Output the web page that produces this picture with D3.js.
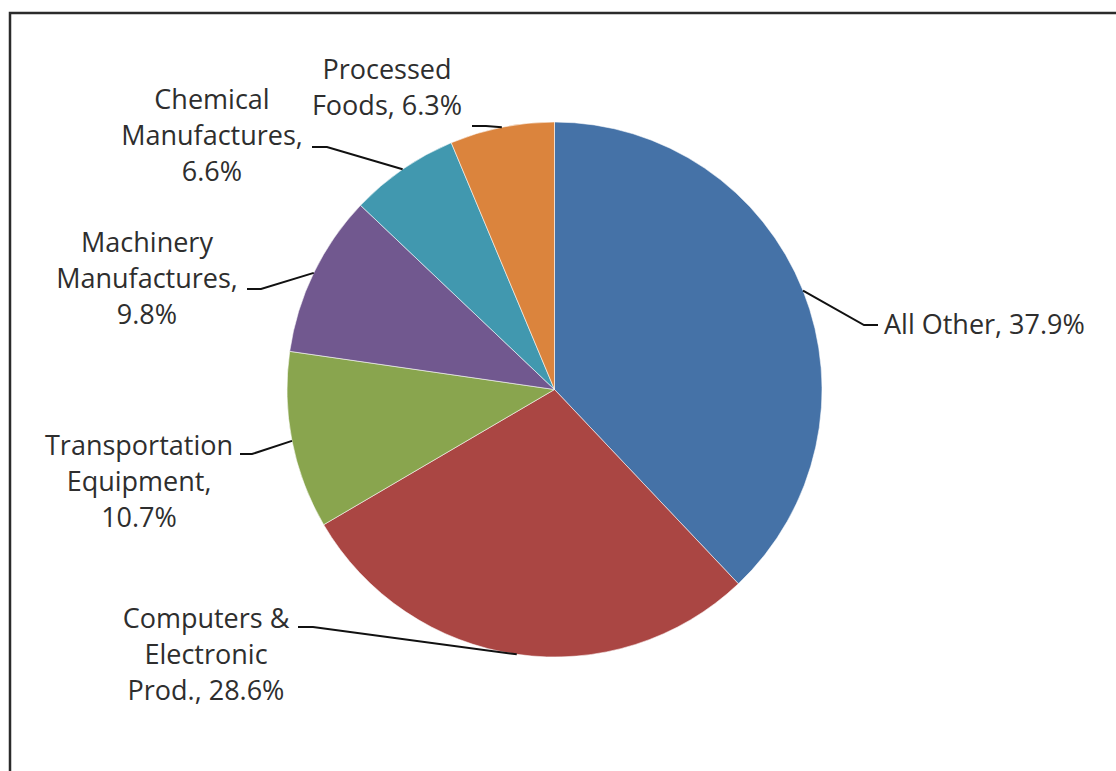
<!DOCTYPE html>
<html>
<head>
<meta charset="utf-8">
<script src="https://cdn.jsdelivr.net/npm/d3@7/dist/d3.min.js"></script>
<style>
  html, body { margin: 0; padding: 0; background: #fff; }
  svg { display: block; }
</style>
</head>
<body>
<svg id="chart" width="1116" height="771"></svg>
<script>
// Share of total by industry, clockwise from 12 o'clock
const categories = [
  "All Other",
  "Computers & Electronic Prod.",
  "Transportation Equipment",
  "Machinery Manufactures",
  "Chemical Manufactures",
  "Processed Foods"
];
const shares = [37.9, 28.6, 10.7, 9.8, 6.6, 6.3];
// Label text, one entry per line
const labelLines = [
  ["All Other, 37.9%"],
  ["Computers &", "Electronic", "Prod., 28.6%"],
  ["Transportation", "Equipment,", "10.7%"],
  ["Machinery", "Manufactures,", "9.8%"],
  ["Chemical", "Manufactures,", "6.6%"],
  ["Processed", "Foods, 6.3%"]
];
const colors = ["#4572A7", "#AA4643", "#89A54E", "#71588F", "#4198AF", "#DB843D"];

// Label placement: text anchor point, first baseline, and where the leader line leaves the label
const labelLayout = [
  { x: 884, y: 334, anchor: "start",  lead: [878, 325], knee: [864, 325] },
  { x: 206, y: 628, anchor: "middle", lead: [298, 627], knee: [313, 627] },
  { x: 139, y: 455, anchor: "middle", lead: [240, 454], knee: [252, 454] },
  { x: 147, y: 252, anchor: "middle", lead: [247, 289], knee: [261, 289] },
  { x: 212, y: 109, anchor: "middle", lead: [312, 147], knee: [327, 147] },
  { x: 387, y: 79,  anchor: "middle", lead: [472, 126], knee: [486, 126] }
];

const svg = d3.select("#chart");
const W = 1116, H = 771;

// chart frame
svg.append("rect")
  .attr("x", 10).attr("y", 13)
  .attr("width", W + 20).attr("height", H + 20)
  .attr("fill", "#fff")
  .attr("stroke", "#2b2b2b")
  .attr("stroke-width", 2.5);

const cx = 554.5, cy = 389.5, r = 267.5;

const data = categories.map((c, i) => ({ name: c, value: shares[i], i }));

const pie = d3.pie().value(d => d.value).sort(null);
const arc = d3.arc().innerRadius(0).outerRadius(r);
const arcs = pie(data);

const g = svg.append("g").attr("transform", `translate(${cx},${cy})`);

g.selectAll("path.slice")
  .data(arcs)
  .join("path")
  .attr("class", "slice")
  .attr("d", arc)
  .attr("fill", d => colors[d.data.i])
  .attr("stroke", "#ffffff")
  .attr("stroke-opacity", 0.55)
  .attr("stroke-width", 1);

// leader lines: label edge -> knee -> middle of the slice's arc
const lineGen = d3.line();
arcs.forEach(a => {
  const L = labelLayout[a.data.i];
  const mid = (a.startAngle + a.endAngle) / 2;
  const px = cx + r * Math.sin(mid);
  const py = cy - r * Math.cos(mid);
  svg.append("path")
    .attr("d", lineGen([L.lead, L.knee, [px, py]]))
    .attr("fill", "none")
    .attr("stroke", "#111")
    .attr("stroke-width", 2);
});

// data labels
const lineHeight = 36;
labelLines.forEach((lines, i) => {
  const L = labelLayout[i];
  const t = svg.append("text")
    .attr("x", L.x).attr("y", L.y)
    .attr("text-anchor", L.anchor)
    .attr("font-family", "'Open Sans', 'Noto Sans', sans-serif")
    .attr("font-size", 27)
    .attr("fill", "#2e2e2e");
  lines.forEach((s, k) => {
    t.append("tspan")
      .attr("x", L.x)
      .attr("dy", k === 0 ? 0 : lineHeight)
      .text(s);
  });
});
</script>
</body>
</html>
